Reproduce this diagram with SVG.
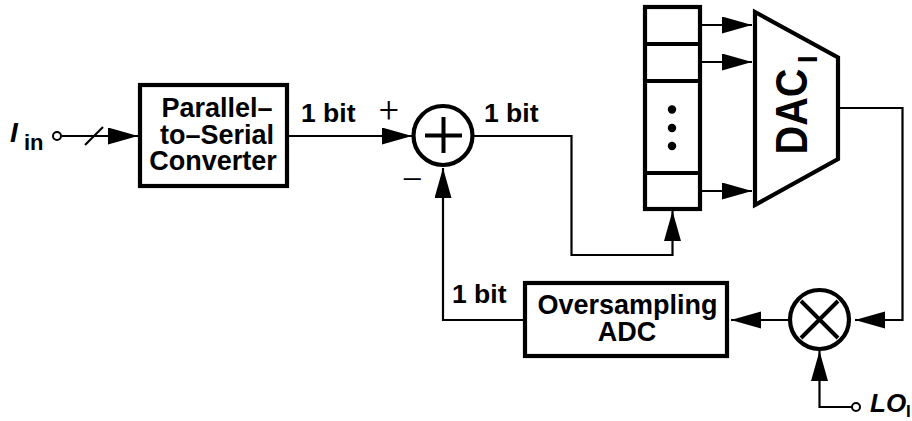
<svg xmlns="http://www.w3.org/2000/svg" width="912" height="421" viewBox="0 0 912 421">
<style>
text{font-family:"Liberation Sans",Arial,sans-serif;font-weight:bold;fill:#000}
.b{font-size:27px;text-anchor:middle}
.l{font-size:26.5px}
.i{font-style:italic;font-size:28px}
.box{fill:#fff;stroke:#000;stroke-width:4.2}
.w{fill:none;stroke:#000;stroke-width:2.2}
.t{fill:none;stroke:#000;stroke-width:4}
text.p{font-family:"Roboto","Liberation Sans",sans-serif;font-weight:300;font-size:35px;text-anchor:middle}
</style>
<defs><marker id="a" markerUnits="userSpaceOnUse" markerWidth="32" markerHeight="18" refX="30" refY="8.5" orient="auto"><path d="M0 0L30 8.500L0 17Z" fill="#000"/></marker></defs>
<g id="connectors">
<path class="w" d="M62 136H138" marker-end="url(#a)"/>
<path class="w" d="M85 145L103 127"/>
<path class="w" d="M288 136H412" marker-end="url(#a)"/>
<path class="w" d="M474 136H571.500V255H672.500V211" marker-end="url(#a)"/>
<path class="w" d="M526 320H443V168" marker-end="url(#a)"/>
<path class="w" d="M702 25H752" marker-end="url(#a)"/>
<path class="w" d="M702 62H752" marker-end="url(#a)"/>
<path class="w" d="M702 191H752" marker-end="url(#a)"/>
<path class="w" d="M840 108H902.500V320H855" marker-end="url(#a)"/>
<path class="w" d="M790 320H731" marker-end="url(#a)"/>
<path class="w" d="M852 407H819.500V351" marker-end="url(#a)"/>
</g>
<g id="input"><circle cx="57" cy="136" r="4" fill="#fff" stroke="#000" stroke-width="2"/>
<text x="10" y="142" class="i">I</text><text x="24" y="150" style="font-size:22px">in</text></g>
<g id="p2s"><rect class="box" x="140" y="85" width="147" height="101"/>
<text class="b"><tspan x="217" y="117">Parallel–</tspan><tspan x="217" y="143.500">to–Serial</tspan><tspan x="213" y="170">Converter</tspan></text></g>
<g id="sum"><circle cx="443" cy="135.500" r="29.500" fill="#fff" stroke="#000" stroke-width="4.200"/>
<path class="t" d="M425 135.500H462M443.500 117V153"/></g>
<g id="labels">
<text class="l" x="301" y="121.500">1 bit</text><text class="l" x="484" y="121.500">1 bit</text><text class="l" x="452" y="303">1 bit</text>
<text class="p" x="389" y="122">+</text><text class="p" x="412.500" y="192">–</text>
</g>
<g id="register">
<rect class="box" x="645" y="7" width="55" height="202"/>
<path class="t" d="M645 44H700M645 81H700M645 173H700"/>
<circle cx="672" cy="109.500" r="4.200"/><circle cx="672" cy="128" r="4.200"/><circle cx="672" cy="146" r="4.200"/>
</g>
<g id="dac"><path class="box" d="M755 12L838 57.500V159L755 205Z"/>
<text transform="translate(807 154.500) rotate(-90)" style="font-size:44px" textLength="86" lengthAdjust="spacingAndGlyphs">DAC</text>
<text transform="translate(817 63) rotate(-90)" style="font-size:27px">I</text></g>
<g id="adc"><rect class="box" x="525" y="283" width="202" height="73"/>
<text class="b"><tspan x="627.500" y="313.500">Oversampling</tspan><tspan x="627" y="340.500">ADC</tspan></text></g>
<g id="mixer"><circle cx="819.500" cy="319.500" r="29.500" fill="#fff" stroke="#000" stroke-width="4.200"/>
<path class="t" d="M801 301L838 338M838 301L801 338"/></g>
<g id="lo"><circle cx="856" cy="407" r="4" fill="#fff" stroke="#000" stroke-width="2"/>
<text x="870" y="412" class="i" style="font-size:26px">LO<tspan dy="5" style="font-size:17px;font-style:normal">I</tspan></text></g>
</svg>
